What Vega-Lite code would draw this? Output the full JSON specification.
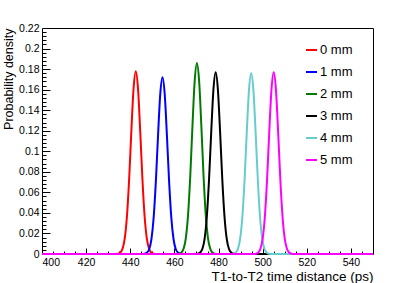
{
  "$schema": "https://vega.github.io/schema/vega-lite/v6.json",
  "width": 331,
  "height": 226,
  "autosize": "none",
  "padding": {"left": 42, "top": 28, "right": 42, "bottom": 29},
  "config": {
    "font": "Liberation Sans",
    "view": {"stroke": "#000", "strokeWidth": 1},
    "axis": {"grid": false, "domain": false, "tickColor": "#000", "labelColor": "#000", "titleColor": "#000", "titleFontWeight": "normal"}
  },
  "data": {"values": [
    {"s":"0 mm","x":400,"y":0},{"s":"0 mm","x":432.5,"y":0},{"s":"0 mm","x":434.5,"y":0.0003},{"s":"0 mm","x":435.5,"y":0.0014},{"s":"0 mm","x":436.5,"y":0.0051},{"s":"0 mm","x":437.5,"y":0.0151},{"s":"0 mm","x":438.5,"y":0.0367},{"s":"0 mm","x":439.5,"y":0.0732},{"s":"0 mm","x":440.5,"y":0.12},{"s":"0 mm","x":441.5,"y":0.1613},{"s":"0 mm","x":442.5,"y":0.178},{"s":"0 mm","x":443.5,"y":0.1613},{"s":"0 mm","x":444.5,"y":0.12},{"s":"0 mm","x":445.5,"y":0.0732},{"s":"0 mm","x":446.5,"y":0.0367},{"s":"0 mm","x":447.5,"y":0.0151},{"s":"0 mm","x":448.5,"y":0.0051},{"s":"0 mm","x":449.5,"y":0.0014},{"s":"0 mm","x":450.5,"y":0.0003},{"s":"0 mm","x":452.5,"y":0},{"s":"0 mm","x":550,"y":0},
    {"s":"1 mm","x":400,"y":0},{"s":"1 mm","x":444.6,"y":0},{"s":"1 mm","x":446.6,"y":0.0003},{"s":"1 mm","x":447.6,"y":0.0014},{"s":"1 mm","x":448.6,"y":0.0049},{"s":"1 mm","x":449.6,"y":0.0146},{"s":"1 mm","x":450.6,"y":0.0354},{"s":"1 mm","x":451.6,"y":0.0707},{"s":"1 mm","x":452.6,"y":0.1159},{"s":"1 mm","x":453.6,"y":0.1558},{"s":"1 mm","x":454.6,"y":0.172},{"s":"1 mm","x":455.6,"y":0.1558},{"s":"1 mm","x":456.6,"y":0.1159},{"s":"1 mm","x":457.6,"y":0.0707},{"s":"1 mm","x":458.6,"y":0.0354},{"s":"1 mm","x":459.6,"y":0.0146},{"s":"1 mm","x":460.6,"y":0.0049},{"s":"1 mm","x":461.6,"y":0.0014},{"s":"1 mm","x":462.6,"y":0.0003},{"s":"1 mm","x":464.6,"y":0},{"s":"1 mm","x":550,"y":0},
    {"s":"2 mm","x":400,"y":0},{"s":"2 mm","x":460.2,"y":0},{"s":"2 mm","x":462.2,"y":0.0003},{"s":"2 mm","x":463.2,"y":0.0015},{"s":"2 mm","x":464.2,"y":0.0053},{"s":"2 mm","x":465.2,"y":0.0158},{"s":"2 mm","x":466.2,"y":0.0383},{"s":"2 mm","x":467.2,"y":0.0764},{"s":"2 mm","x":468.2,"y":0.1254},{"s":"2 mm","x":469.2,"y":0.1685},{"s":"2 mm","x":470.2,"y":0.186},{"s":"2 mm","x":471.2,"y":0.1685},{"s":"2 mm","x":472.2,"y":0.1254},{"s":"2 mm","x":473.2,"y":0.0764},{"s":"2 mm","x":474.2,"y":0.0383},{"s":"2 mm","x":475.2,"y":0.0158},{"s":"2 mm","x":476.2,"y":0.0053},{"s":"2 mm","x":477.2,"y":0.0015},{"s":"2 mm","x":478.2,"y":0.0003},{"s":"2 mm","x":480.2,"y":0},{"s":"2 mm","x":550,"y":0},
    {"s":"3 mm","x":400,"y":0},{"s":"3 mm","x":468.7,"y":0},{"s":"3 mm","x":470.7,"y":0.0003},{"s":"3 mm","x":471.7,"y":0.0014},{"s":"3 mm","x":472.7,"y":0.0051},{"s":"3 mm","x":473.7,"y":0.015},{"s":"3 mm","x":474.7,"y":0.0365},{"s":"3 mm","x":475.7,"y":0.0727},{"s":"3 mm","x":476.7,"y":0.1193},{"s":"3 mm","x":477.7,"y":0.1604},{"s":"3 mm","x":478.7,"y":0.177},{"s":"3 mm","x":479.7,"y":0.1604},{"s":"3 mm","x":480.7,"y":0.1193},{"s":"3 mm","x":481.7,"y":0.0727},{"s":"3 mm","x":482.7,"y":0.0365},{"s":"3 mm","x":483.7,"y":0.015},{"s":"3 mm","x":484.7,"y":0.0051},{"s":"3 mm","x":485.7,"y":0.0014},{"s":"3 mm","x":486.7,"y":0.0003},{"s":"3 mm","x":488.7,"y":0},{"s":"3 mm","x":550,"y":0},
    {"s":"4 mm","x":400,"y":0},{"s":"4 mm","x":484.8,"y":0},{"s":"4 mm","x":486.8,"y":0.0003},{"s":"4 mm","x":487.8,"y":0.0014},{"s":"4 mm","x":488.8,"y":0.005},{"s":"4 mm","x":489.8,"y":0.0149},{"s":"4 mm","x":490.8,"y":0.0363},{"s":"4 mm","x":491.8,"y":0.0723},{"s":"4 mm","x":492.8,"y":0.1186},{"s":"4 mm","x":493.8,"y":0.1595},{"s":"4 mm","x":494.8,"y":0.176},{"s":"4 mm","x":495.8,"y":0.1595},{"s":"4 mm","x":496.8,"y":0.1186},{"s":"4 mm","x":497.8,"y":0.0723},{"s":"4 mm","x":498.8,"y":0.0363},{"s":"4 mm","x":499.8,"y":0.0149},{"s":"4 mm","x":500.8,"y":0.005},{"s":"4 mm","x":501.8,"y":0.0014},{"s":"4 mm","x":502.8,"y":0.0003},{"s":"4 mm","x":504.8,"y":0},{"s":"4 mm","x":550,"y":0},
    {"s":"5 mm","x":400,"y":0},{"s":"5 mm","x":495,"y":0},{"s":"5 mm","x":497,"y":0.0003},{"s":"5 mm","x":498,"y":0.0014},{"s":"5 mm","x":499,"y":0.0051},{"s":"5 mm","x":500,"y":0.015},{"s":"5 mm","x":501,"y":0.0365},{"s":"5 mm","x":502,"y":0.0727},{"s":"5 mm","x":503,"y":0.1193},{"s":"5 mm","x":504,"y":0.1604},{"s":"5 mm","x":505,"y":0.177},{"s":"5 mm","x":506,"y":0.1604},{"s":"5 mm","x":507,"y":0.1193},{"s":"5 mm","x":508,"y":0.0727},{"s":"5 mm","x":509,"y":0.0365},{"s":"5 mm","x":510,"y":0.015},{"s":"5 mm","x":511,"y":0.0051},{"s":"5 mm","x":512,"y":0.0014},{"s":"5 mm","x":513,"y":0.0003},{"s":"5 mm","x":515,"y":0},{"s":"5 mm","x":550,"y":0}
  ]},
  "layer": [
    {
      "mark": {"type": "line", "strokeWidth": 2, "interpolate": "monotone", "clip": false},
      "encoding": {
        "x": {"field": "x", "type": "quantitative", "scale": {"domain": [400, 550], "nice": false, "zero": false},
          "axis": {"values": [400,420,440,460,480,500,520,540], "format": "d", "ticks": false, "labelFontSize": 10.5, "labelPadding": 3,
            "title": "T1-to-T2 time distance (ps)", "titleAnchor": "end", "titleFontSize": 13.5, "titlePadding": 2}},
        "y": {"field": "y", "type": "quantitative", "scale": {"domain": [0, 0.22], "nice": false},
          "axis": {"values": [0,0.02,0.04,0.06,0.08,0.1,0.12,0.14,0.16,0.18,0.2,0.22], "format": "~g", "ticks": false, "labelFontSize": 10.5, "labelPadding": 3,
            "title": "Probability density", "titleAnchor": "end", "titleFontSize": 12.5, "titlePadding": 3}},
        "color": {"field": "s", "type": "nominal",
          "scale": {"domain": ["0 mm","1 mm","2 mm","3 mm","4 mm","5 mm"], "range": ["#ff0000","#0000ff","#007a00","#000000","#66cccc","#ff00ff"]},
          "legend": {"orient": "none", "legendX": 263, "legendY": 15.5, "title": null, "symbolType": "stroke", "symbolSize": 121, "symbolStrokeWidth": 2, "labelFontSize": 13, "labelOffset": 2, "rowPadding": 8}}
      }
    },
    {
      "mark": {"type": "point", "opacity": 0},
      "encoding": {
        "x": {"field": "x", "type": "quantitative", "axis": {"orient": "bottom", "values": [420,440,460,480,500,520,540], "labels": false, "tickSize": -6, "title": null}},
        "y": {"field": "y", "type": "quantitative", "axis": {"orient": "left", "values": [0.02,0.04,0.06,0.08,0.1,0.12,0.14,0.16,0.18,0.2], "labels": false, "tickSize": -8, "title": null}}
      }
    },
    {
      "mark": {"type": "point", "opacity": 0},
      "encoding": {
        "x": {"field": "x", "type": "quantitative", "axis": {"orient": "bottom", "values": [405,410,415,425,430,435,445,450,455,465,470,475,485,490,495,505,510,515,525,530,535,545], "labels": false, "tickSize": -3, "title": null}},
        "y": {"field": "y", "type": "quantitative", "axis": {"orient": "left", "values": [0.004,0.008,0.012,0.016,0.024,0.028,0.032,0.036,0.044,0.048,0.052,0.056,0.064,0.068,0.072,0.076,0.084,0.088,0.092,0.096,0.104,0.108,0.112,0.116,0.124,0.128,0.132,0.136,0.144,0.148,0.152,0.156,0.164,0.168,0.172,0.176,0.184,0.188,0.192,0.196,0.204,0.208,0.212,0.216], "labels": false, "tickSize": -4, "title": null}}
      }
    }
  ],
  "resolve": {"axis": {"x": "independent", "y": "independent"}}
}
